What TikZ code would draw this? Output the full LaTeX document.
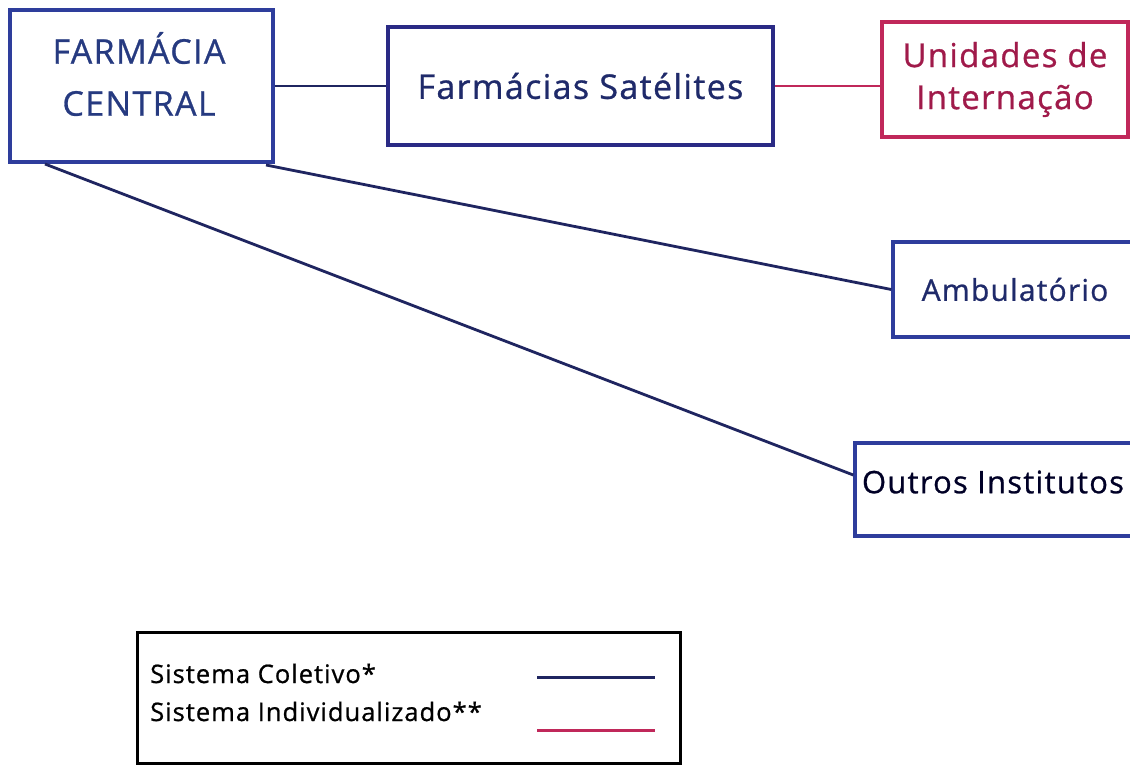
\documentclass[tikz,border=0pt]{standalone}
\usepackage{fontspec}
\setmainfont[LetterSpace=4,FakeBold=0.8]{Open Sans}
\definecolor{boxblue}{HTML}{2E3D9C}
\definecolor{navy}{HTML}{2A2A85}
\definecolor{txtblue}{HTML}{263A80}
\definecolor{txtnavy}{HTML}{1F2A6A}
\definecolor{crimson}{HTML}{C0285A}
\definecolor{txtred}{HTML}{A01A4A}
\definecolor{linenavy}{HTML}{1F2560}
\tikzset{
  unitbox/.style={draw=#1, line width=3.4pt, rectangle, inner sep=0pt, align=center},
  conn/.style={draw=linenavy, line width=2.8pt},
  connred/.style={draw=crimson, line width=2.8pt},
  legline/.style={line width=3pt},
  legtext/.style={anchor=base west, font=\fontsize{25.5}{30}\selectfont, inner sep=0pt},
}
\begin{document}
\begin{tikzpicture}[x=1pt,y=-1pt]
\useasboundingbox (0,0) rectangle (1130,769);
\clip (0,0) rectangle (1130,769);
\fill[white] (0,0) rectangle (1130,769);
% boxes
\node[unitbox=boxblue, minimum width=263pt, minimum height=152pt] (fc) at (141.5,86) {};
\node[text=txtblue, font=\fontsize{34}{52}\selectfont, align=center] (fct) at (139,74) {FARMÁCIA\\CENTRAL};
\node[unitbox=navy, minimum width=385pt, minimum height=118pt, text=txtnavy, font=\fontsize{34}{40}\selectfont] (fs) at (580.5,86) {Farmácias Satélites};
\node[unitbox=crimson, minimum width=246pt, minimum height=115pt, text=txtred, font=\fontsize{33}{42}\selectfont] (ui) at (1005,79.5) {Unidades de\\Internação};
\node[unitbox=boxblue, minimum width=244pt, minimum height=95pt, text=txtnavy, font=\fontsize{30}{36}\selectfont] (amb) at (1015,289.5) {Ambulatório};
\node[unitbox=boxblue, minimum width=284pt, minimum height=93pt] (oi) at (997,489.5) {};
\node[text=black!85!blue, font=\fontsize{31}{36}\selectfont] (oit) at (993,482) {Outros Institutos};
% connectors
\coordinate (fcA) at (266,165);
\coordinate (fcB) at (45,164);
\draw[conn] (fc.east |- fs.west) -- (fs.west);
\draw[connred] (fs.east |- 0,86) -- (ui.west |- 0,86);
\draw[conn] (fcA) -- (amb.west);
\draw[conn] (fcB) -- (oi.west |- 0,475);
% legend
\node[draw=black, line width=3pt, minimum width=543pt, minimum height=131pt] (leg) at (408.5,697.5) {};
\node[legtext] (l1) at (150,683) {Sistema Coletivo*};
\node[legtext] (l2) at (150,721) {Sistema Individualizado**};
\coordinate (b1) at (537,677);
\coordinate (b2) at (655,677);
\coordinate (r1) at (537,730);
\coordinate (r2) at (655,730);
\draw[legline, draw=linenavy] (b1) -- (b2);
\draw[legline, draw=crimson] (r1) -- (r2);
\end{tikzpicture}
\end{document}
